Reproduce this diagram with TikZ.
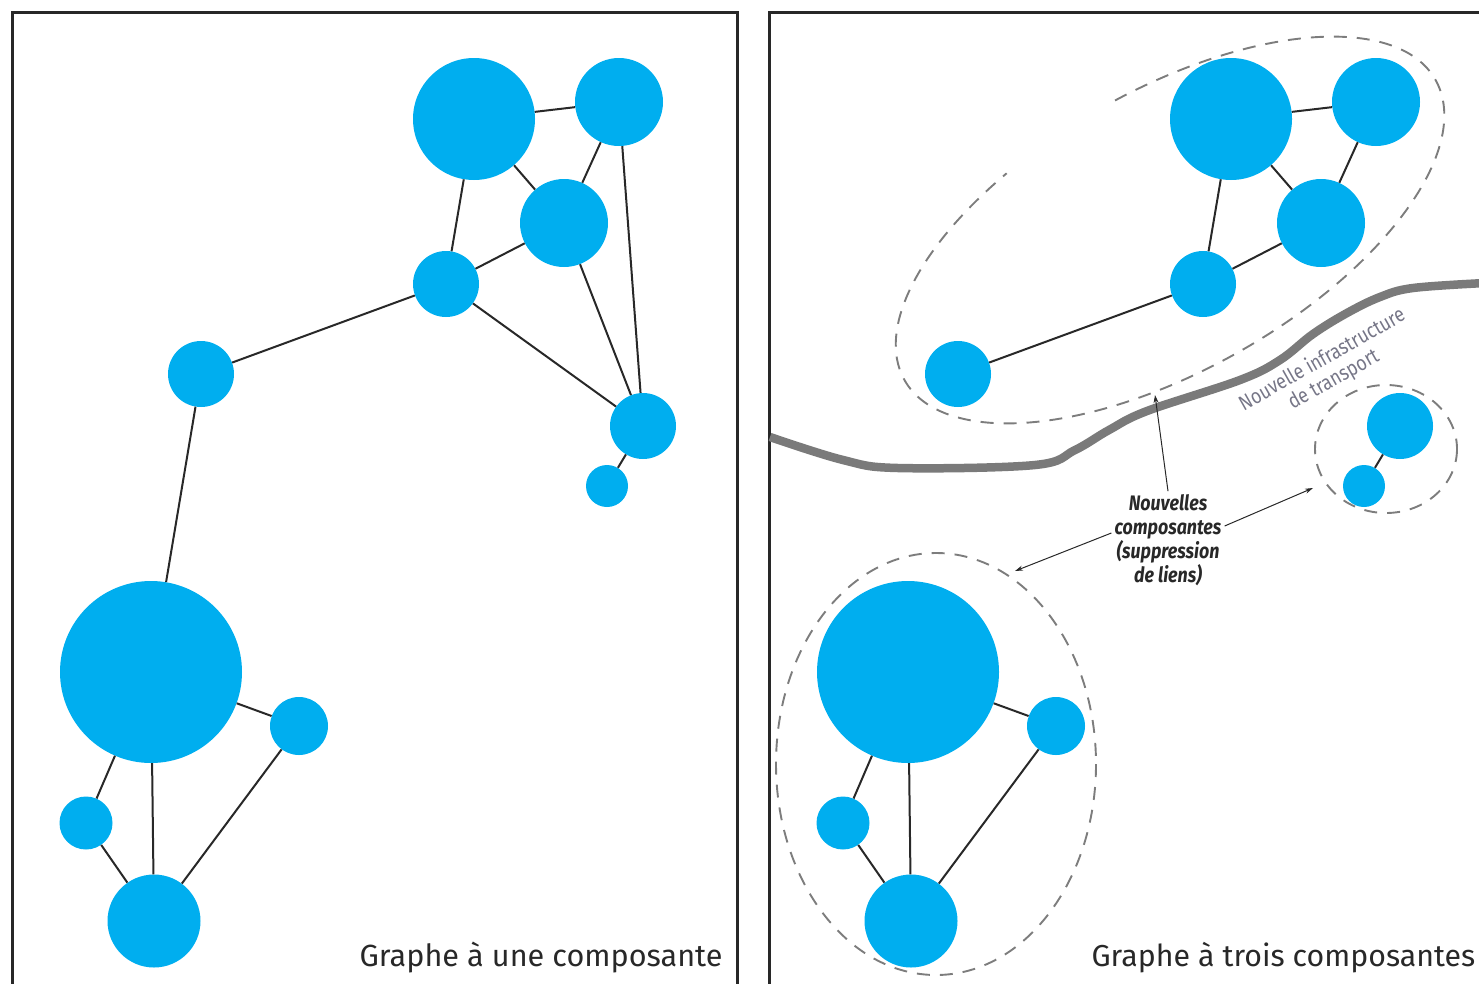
\documentclass[tikz,border=0pt]{standalone}
\usepackage{fontspec}
\setmainfont{Fira Sans}
\newfontfamily\narrowfont{Fira Sans}[FakeStretch=0.85]
\usetikzlibrary{arrows.meta}
\definecolor{siteblue}{RGB}{0,174,239}
\definecolor{roadgray}{RGB}{122,122,122}
\definecolor{dashgray}{RGB}{125,125,125}
\definecolor{labelgray}{RGB}{118,118,135}
\definecolor{ink}{RGB}{40,40,40}
\tikzset{
  site/.style={circle, fill=siteblue, inner sep=0pt, minimum size=#1},
  link/.style={ink, line width=2pt},
  frame/.style={ink, line width=3pt},
  group/.style={dashgray, line width=1.9pt, dash pattern=on 13pt off 10pt},
  road/.style={roadgray, line width=8.5pt},
  callout/.style={ink, line width=1pt, -{Stealth[length=8pt, width=5pt]}}
}
\begin{document}
\begin{tikzpicture}[x=1pt, y=-1pt]
\clip (0,0) rectangle (1479,983);
% frames
\draw[frame] (12,995) -- (12,12) -- (737,12) -- (737,995);
\draw[frame] (769,995) -- (769,12) -- (1495,12);

% left panel: one component
\node[site=122pt] (lA) at (474,119) {};
\node[site=88pt] (lB) at (619,102) {};
\node[site=88pt] (lC) at (564,223) {};
\node[site=66pt] (lD) at (446,284) {};
\node[site=66pt] (lE) at (201,374) {};
\node[site=66pt] (lF) at (643,426) {};
\node[site=42pt] (lG) at (607,486) {};
\node[site=182pt] (lH) at (151,672) {};
\node[site=58pt] (lI) at (299,726) {};
\node[site=53pt] (lJ) at (86,823) {};
\node[site=93pt] (lK) at (154,921) {};
\draw[link] (lA) -- (lB);
\draw[link] (lA) -- (lC);
\draw[link] (lA) -- (lD);
\draw[link] (lB) -- (lC);
\draw[link] (lB) -- (lF);
\draw[link] (lC) -- (lF);
\draw[link] (lD) -- (lC);
\draw[link] (lD) -- (lF);
\draw[link] (lD) -- (lE);
\draw[link] (lE) -- (lH);
\draw[link] (lF) -- (lG);
\draw[link] (lH) -- (lI);
\draw[link] (lH) -- (lJ);
\draw[link] (lH) -- (lK);
\draw[link] (lJ) -- (lK);
\draw[link] (lI) -- (lK);
\node[anchor=base east, text=ink, font=\fontsize{30.6}{31}\selectfont] (title1) at (726,966) {Graphe à une composante};

% right panel: three components
\draw[road] plot[smooth, tension=0.6] coordinates {(770,437) (843,460) (898,468) (1035,465) (1075,450) (1109,430) (1147,411) (1240,380) (1280,360) (1313,334) (1347,313) (1380,297) (1413,288) (1485,283)};
\node[site=122pt] (rA) at (1231,119) {};
\node[site=88pt] (rB) at (1376,102) {};
\node[site=88pt] (rC) at (1321,223) {};
\node[site=66pt] (rD) at (1203,284) {};
\node[site=66pt] (rE) at (958,374) {};
\node[site=66pt] (rF) at (1400,426) {};
\node[site=42pt] (rG) at (1364,486) {};
\node[site=182pt] (rH) at (908,672) {};
\node[site=58pt] (rI) at (1056,726) {};
\node[site=53pt] (rJ) at (843,823) {};
\node[site=93pt] (rK) at (911,921) {};
\draw[link] (rA) -- (rB);
\draw[link] (rA) -- (rC);
\draw[link] (rA) -- (rD);
\draw[link] (rB) -- (rC);
\draw[link] (rD) -- (rC);
\draw[link] (rD) -- (rE);
\draw[link] (rF) -- (rG);
\draw[link] (rH) -- (rI);
\draw[link] (rH) -- (rJ);
\draw[link] (rH) -- (rK);
\draw[link] (rJ) -- (rK);
\draw[link] (rI) -- (rK);

% dashed outlines of the components
\begin{scope}[shift={(1170,230)}, rotate=29.5]
  \draw[group] (273:305 and 140) arc[start angle=273, end angle=608, x radius=305, y radius=140];
\end{scope}
\draw[group] (1386,449) ellipse [x radius=71, y radius=64];
\draw[group] (936,764) ellipse [x radius=160, y radius=211];

% labels
\node[rotate=29.5, text=labelgray, align=center, inner sep=1pt, font=\narrowfont\fontsize{21}{23}\selectfont] (roadlbl) at (1328,370) {Nouvelle infrastructure\\de transport};
\node[text=ink, align=center, inner sep=3pt, font=\narrowfont\fontsize{21}{24}\bfseries\itshape\selectfont] (note) at (1168,540) {Nouvelles\\composantes\\(suppression\\de liens)};
\coordinate (tip1) at (1155,395);
\coordinate (tip2) at (1015,571);
\coordinate (tip3) at (1313,488);
\draw[callout] (note.north) -- (tip1);
\draw[callout] ([yshift=7pt]note.west) -- (tip2);
\draw[callout] ([yshift=14pt]note.east) -- (tip3);
\node[anchor=base west, text=ink, font=\fontsize{30.3}{31}\selectfont] (title2) at (1088,966) {Graphe à trois composantes};
\end{tikzpicture}
\end{document}
